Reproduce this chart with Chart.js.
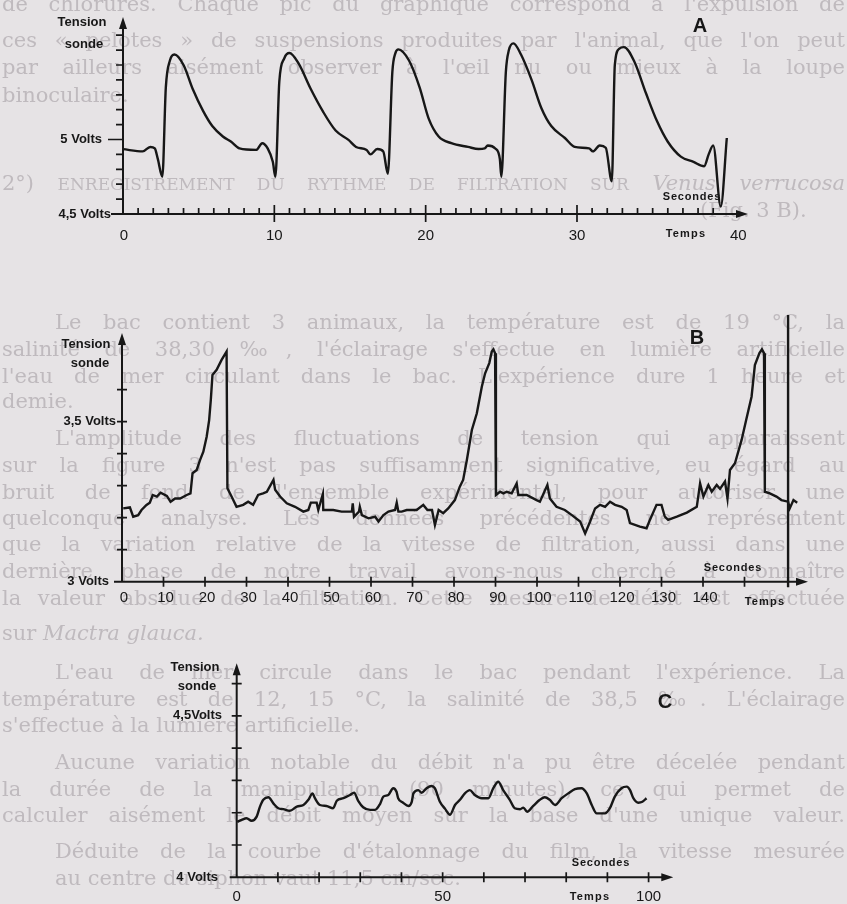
<!DOCTYPE html>
<html lang="fr">
<head>
<meta charset="utf-8">
<title>Tension sonde</title>
<script src="https://cdn.jsdelivr.net/npm/chart.js@4.4.1/dist/chart.umd.min.js"></script>
<style>
  html, body { margin: 0; padding: 0; background: #e6e3e5; }
  #page { position: relative; width: 847px; height: 904px; overflow: hidden; }
  #page canvas { position: absolute; left: 0; }
  /* faint page text showing behind the figures */
  #text { position: absolute; left: 0; top: 0; width: 847px; height: 904px;
          font: 21px "DejaVu Serif", "Liberation Serif", serif; color: #bfbabe; filter: blur(0.5px); }
  #text div { position: absolute; left: 2px; width: 843px; white-space: nowrap; line-height: 26px; }
  #text .j { text-align: justify; text-align-last: justify; white-space: normal; }
  #text .in { left: 55px; width: 790px; }
  #text .sc { text-transform: uppercase; font-size: 17px; }
</style>
</head>
<body>
<div id="page">
  <div id="text">
    <div class="j" style="top:-9px">de chlorures. Chaque pic du graphique correspond à l'expulsion de</div>
    <div class="j" style="top:27px">ces « pelotes » de suspensions produites par l'animal, que l'on peut</div>
    <div class="j" style="top:54px">par ailleurs aisément observer à l'œil nu ou mieux à la loupe</div>
    <div style="top:82px">binoculaire.</div>
    <div class="j" style="top:170px">2°) <span class="sc">Enregistrement du rythme de filtration sur</span> <i>Venus verrucosa</i></div>
    <div style="top:197px; left:700px">(Fig. 3 B).</div>
    <div class="j in" style="top:309px">Le bac contient 3 animaux, la température est de 19 °C, la</div>
    <div class="j" style="top:336px">salinité de 38,30 ‰, l'éclairage s'effectue en lumière artificielle</div>
    <div class="j" style="top:363px">l'eau de mer circulant dans le bac. L'expérience dure 1 heure et</div>
    <div style="top:388px">demie.</div>
    <div class="j in" style="top:425px">L'amplitude des fluctuations de tension qui apparaissent</div>
    <div class="j" style="top:452px">sur la figure 3 n'est pas suffisamment significative, eu égard au</div>
    <div class="j" style="top:479px">bruit de fond de l'ensemble expérimental, pour autoriser une</div>
    <div class="j" style="top:505px">quelconque analyse. Les données précédentes ne représentent</div>
    <div class="j" style="top:531px">que la variation relative de la vitesse de filtration, aussi dans une</div>
    <div class="j" style="top:558px">dernière phase de notre travail avons-nous cherché à connaître</div>
    <div class="j" style="top:585px">la valeur absolue de la filtration. Cette mesure de débit est effectuée</div>
    <div style="top:620px">sur <i>Mactra glauca.</i></div>
    <div class="j in" style="top:659px">L'eau de mer circule dans le bac pendant l'expérience. La</div>
    <div class="j" style="top:686px">température est de 12, 15 °C, la salinité de 38,5 ‰. L'éclairage</div>
    <div style="top:712px">s'effectue à la lumière artificielle.</div>
    <div class="j in" style="top:749px">Aucune variation notable du débit n'a pu être décelée pendant</div>
    <div class="j" style="top:776px">la durée de la manipulation (90 minutes), ce qui permet de</div>
    <div class="j" style="top:802px">calculer aisément le débit moyen sur la base d'une unique valeur.</div>
    <div class="j in" style="top:838px">Déduite de la courbe d'étalonnage du film, la vitesse mesurée</div>
    <div class="in" style="top:865px">au centre du siphon vaut 11,5 cm/sec.</div>
  </div>
  <canvas id="chartA" width="847" height="250" style="top:0"></canvas>
  <canvas id="chartB" width="847" height="330" style="top:300px"></canvas>
  <canvas id="chartC" width="847" height="264" style="top:640px"></canvas>
</div>
<script>
// ── Series A (seconds / volts) ──────────────────────────────────────────
const aTime = [0, 1.3, 1.8, 2.1, 2.3, 2.6, 2.83, 3.1, 3.4, 4.0, 4.6, 5.3, 5.9, 6.6, 7.15, 7.7, 8.8, 9.2, 9.56, 9.9,
  10.07, 10.33, 10.66, 11.0, 11.6, 12.4, 13.2, 14.05, 14.9, 15.4, 16.1, 16.35, 16.8, 17.2, 17.5, 17.8, 18.0, 18.2,
  18.9, 19.6, 20.2, 20.86, 21.7, 22.8, 23.5, 23.9, 24.1, 24.6, 24.9, 25.0, 25.3, 25.5, 25.8, 26.3, 27.0, 27.65,
  28.3, 29.2, 29.85, 30.8, 31.05, 31.5, 31.9, 32.3, 32.5, 32.8, 33.1, 33.8, 34.56, 35.3, 36.0, 36.86, 37.7, 38.4,
  38.7, 39.0, 39.5, 39.9];
const aVolt = [4.935, 4.92, 4.95, 4.94, 4.87, 4.75, 5.35, 5.53, 5.57, 5.5, 5.34, 5.19, 5.09, 5.02, 4.985, 4.94, 4.93, 4.975, 4.94, 4.85,
  4.75, 5.39, 5.545, 5.58, 5.51, 5.34, 5.19, 5.06, 4.997, 4.95, 4.93, 4.9, 4.936, 4.92, 4.77, 5.455, 5.58, 5.605,
  5.53, 5.35, 5.14, 5.02, 4.975, 4.95, 4.936, 4.94, 4.96, 4.94, 4.87, 4.75, 5.455, 5.6, 5.645, 5.57, 5.4, 5.21,
  5.09, 5.01, 4.95, 4.94, 4.92, 4.96, 4.945, 4.72, 5.5, 5.61, 5.62, 5.52, 5.31, 5.12, 4.985, 4.885, 4.85, 4.82,
  4.9, 4.96, 4.55, 5.01];

// ── Series B ─────────────────────────────────────────────────────────────
const bTime = [0.3, 1.9, 2.7, 3.9, 4.7, 5.9, 6.7, 7.4, 8.4, 9.3, 10.8, 11.7, 12.8, 14, 15.6, 16.5, 17.0, 18.0, 18.8,
  19.6, 20.4, 21.0, 21.4, 21.8, 22.8, 24.0, 25.2, 25.4, 26.4, 27.6, 29.2, 30.4, 31.6, 32.8, 34.0, 34.9, 36.5, 36.9,
  38.1, 39.7, 41.7, 43.7, 44.9, 45.5, 46.9, 47.3, 48.4, 48.5, 50.9, 52.9, 55.4, 55.6, 55.9, 57.1, 57.3, 57.8, 59.4,
  61, 61.8, 63, 64.2, 65.8, 66.2, 66.6, 67.4, 68.6, 71, 72.6, 73.6, 74.7, 75.4, 76.3, 77.4, 78.6, 80.2, 81.4, 82.2,
  83.1, 84.3, 85.5, 86.7, 87.5, 88.5, 89.1, 89.5, 89.9, 90.1, 91.1, 91.9, 92.7, 93.9, 95.1, 95.5, 97.5, 99.9, 100.7,
  102.5, 103.1, 104.7, 106.7, 108.4, 110.4, 111.6, 112.8, 114, 115.2, 116.4, 117.6, 118.8, 120.4, 121.6, 122.4,
  124.8, 126.4, 127.2, 128.8, 130.0, 130.8, 131.6, 133.7, 136.1, 138.5, 139.3, 140.1, 141.3, 142.1, 143.3, 144.1,
  145.3, 145.9, 146.5, 147.7, 149.3, 150.4, 151.7, 152.5, 153.6, 154.2, 154.7, 154.9, 156.1, 157.7, 158.9, 160.5,
  160.9, 161.8, 162.7];
const bVolt = [3.229, 3.232, 3.203, 3.208, 3.224, 3.24, 3.247, 3.271, 3.266, 3.278, 3.268, 3.25, 3.26, 3.26, 3.271, 3.276, 3.339, 3.349, 3.38,
  3.406, 3.453, 3.505, 3.568, 3.646, 3.662, 3.693, 3.719, 3.292, 3.266, 3.234, 3.24, 3.25, 3.24, 3.271, 3.276, 3.281, 3.318, 3.287,
  3.266, 3.245, 3.234, 3.219, 3.224, 3.247, 3.247, 3.224, 3.274, 3.224, 3.224, 3.219, 3.219, 3.245, 3.203, 3.219, 3.234, 3.208, 3.198,
  3.203, 3.188, 3.208, 3.219, 3.224, 3.247, 3.219, 3.219, 3.224, 3.224, 3.24, 3.224, 3.224, 3.177, 3.224, 3.214, 3.229, 3.255, 3.297, 3.318,
  3.38, 3.474, 3.526, 3.609, 3.651, 3.683, 3.719, 3.726, 3.714, 3.271, 3.281, 3.276, 3.281, 3.276, 3.307, 3.271, 3.271, 3.255, 3.25,
  3.302, 3.26, 3.234, 3.224, 3.208, 3.188, 3.151, 3.188, 3.229, 3.24, 3.234, 3.25, 3.24, 3.234, 3.224, 3.183,
  3.172, 3.167, 3.193, 3.24, 3.24, 3.203, 3.193, 3.203, 3.216, 3.234, 3.307, 3.266, 3.302, 3.281, 3.302, 3.29,
  3.313, 3.26, 3.349, 3.37, 3.443, 3.505, 3.578, 3.677, 3.714, 3.726, 3.714, 3.281, 3.276, 3.266, 3.255, 3.25,
  3.229, 3.255, 3.247];
// vertical stop mark at the end of record B
const bMarkTime = [160.5, 160.5];
const bMarkVolt = [3.833, 2.983];

// ── Series C ─────────────────────────────────────────────────────────────
const cTime = [0.15, 1.2, 2.4, 3.6, 4.85, 5.65, 6.46, 7.7, 8.9, 10.1, 11.3, 12.9, 14.6, 16.2, 17.4, 18.4, 19.0, 20.2,
  21.8, 23.4, 24.3, 25.9, 27.5, 28.5, 29.5, 30.7, 32.4, 33.6, 34.8, 35.6, 36.8, 38, 38.8, 39.2, 40.4, 41.7, 42.5,
  42.9, 44.1, 44.9, 46.1, 47.3, 48.1, 49.3, 50.6, 51.8, 53, 54.2, 55.4, 56.6, 57.8, 59.5, 61.1, 62.3, 63.5, 64.7,
  66.3, 67.5, 68.8, 69.6, 70.5, 72, 73.6, 74.8, 76, 77.3, 78.9, 80.5, 82.1, 83.7, 85, 86.2, 87.4, 89.4, 90.6, 91.8,
  93.4, 94.7, 95.5, 96.3, 97.5, 98.5, 99.5];
const cVolt = [4.172, 4.178, 4.183, 4.175, 4.188, 4.219, 4.24, 4.248, 4.229, 4.214, 4.211, 4.206, 4.219, 4.224, 4.24, 4.26, 4.245, 4.224,
  4.221, 4.214, 4.237, 4.245, 4.255, 4.262, 4.237, 4.217, 4.209, 4.209, 4.227, 4.25, 4.255, 4.276, 4.265, 4.245, 4.231, 4.221, 4.234,
  4.26, 4.27, 4.262, 4.276, 4.283, 4.276, 4.235, 4.212, 4.194, 4.224, 4.24, 4.26, 4.27, 4.255, 4.245, 4.245, 4.276, 4.296, 4.27,
  4.24, 4.214, 4.211, 4.216, 4.203, 4.221, 4.24, 4.248, 4.24, 4.224, 4.245, 4.26, 4.273, 4.276, 4.26, 4.224, 4.198, 4.198, 4.214, 4.25,
  4.276, 4.281, 4.27, 4.245, 4.231, 4.234, 4.245];

// ── Axis ticks and labels ────────────────────────────────────────────────
const aXTicks = [1, 2, 3, 4, 5, 6, 7, 8, 9, 11, 12, 13, 14, 15, 16, 17, 18, 19, 21, 22, 23, 24, 25, 26, 27, 28, 29,
  31, 32, 33, 34, 35, 36, 37, 38, 39];
const aXMajor = [10, 20, 30];
const aXLabelValues = [0, 10, 20, 30, 40];
const aXLabels = ['0', '10', '20', '30', '40'];
const aYTicks = [4.6, 4.7, 4.8, 4.9, 5.1, 5.2, 5.3, 5.4, 5.5, 5.6, 5.7];
const aYMajor = [5.0];
const aYLabelValues = [5.0, 4.5];
const aYLabels = ['5 Volts', '4,5 Volts'];

const bXTicks = [10, 20, 30, 40, 50, 60, 70, 80, 90, 100, 110, 120, 130, 140, 150];
const bXLabelValues = [0, 10, 20, 30, 40, 50, 60, 70, 80, 90, 100, 110, 120, 130, 140];
const bXLabels = ['0', '10', '20', '30', '40', '50', '60', '70', '80', '90', '100', '110', '120', '130', '140'];
const bYTicks = [3.1, 3.2, 3.3, 3.4, 3.5, 3.6];
const bYLabelValues = [3.5, 3.0];
const bYLabels = ['3,5 Volts', '3 Volts'];

const cXTicks = [10, 20, 30, 40, 50, 60, 70, 80, 90, 100];
const cXLabelValues = [0, 50, 100];
const cXLabels = ['0', '50', '100'];
const cYTicks = [4.1, 4.2, 4.3, 4.4, 4.5, 4.6];
const cYLabelValues = [4.5, 4.0];
const cYLabels = ['4,5Volts', '4 Volts'];

// ── Styling ──────────────────────────────────────────────────────────────
const INK = '#171717';
const LABEL_FONT = 'bold 13px "Liberation Sans", Arial, sans-serif';
const TICK_FONT = '15px "Liberation Sans", Arial, sans-serif';
const UNIT_FONT = 'bold 11px "Liberation Sans", Arial, sans-serif';
const PANEL_FONT = 'bold 20px "Liberation Sans", Arial, sans-serif';

function drawText(ctx, str, x, y, font, align, spacing) {
  ctx.font = font;
  ctx.textAlign = align || 'center';
  ctx.textBaseline = 'middle';
  ctx.letterSpacing = spacing || '0px';
  ctx.fillText(str, x, y);
  ctx.letterSpacing = '0px';
}

// hand-drawn style axes: arrows, crossing ticks, labels
const axesPlugin = {
  id: 'axesDraw',
  afterDraw(chart, args, o) {
    const ctx = chart.ctx;
    const xs = chart.scales.x, ys = chart.scales.y;
    const ca = chart.chartArea;
    const ox = xs.getPixelForValue(0);
    const oy = ys.getPixelForValue(ys.min);

    ctx.save();
    ctx.strokeStyle = INK;
    ctx.fillStyle = INK;
    ctx.lineWidth = 2;

    ctx.beginPath();
    ctx.moveTo(ox, oy + o.yBelow);
    ctx.lineTo(ox, ca.top + 8);
    ctx.moveTo(ox - o.xLeft, oy);
    ctx.lineTo(ca.right - 8, oy);
    ctx.stroke();

    ctx.beginPath();
    ctx.moveTo(ox, ca.top);
    ctx.lineTo(ox - 4, ca.top + 12);
    ctx.lineTo(ox + 4, ca.top + 12);
    ctx.closePath();
    ctx.moveTo(ca.right, oy);
    ctx.lineTo(ca.right - 12, oy - 4);
    ctx.lineTo(ca.right - 12, oy + 4);
    ctx.closePath();
    ctx.fill();

    ctx.lineWidth = 1.7;
    ctx.beginPath();
    o.yTicks.forEach(v => {
      const py = ys.getPixelForValue(v);
      ctx.moveTo(ox - o.yTick[0], py);
      ctx.lineTo(ox + o.yTick[1], py);
    });
    (o.yMajor || []).forEach(v => {
      const py = ys.getPixelForValue(v);
      ctx.moveTo(ox - o.yTickMajor[0], py);
      ctx.lineTo(ox + o.yTickMajor[1], py);
    });
    o.xTicks.forEach(v => {
      const px = xs.getPixelForValue(v);
      ctx.moveTo(px, oy - o.xTick[0]);
      ctx.lineTo(px, oy + o.xTick[1]);
    });
    (o.xMajor || []).forEach(v => {
      const px = xs.getPixelForValue(v);
      ctx.moveTo(px, oy - o.xTickMajor[0]);
      ctx.lineTo(px, oy + o.xTickMajor[1]);
    });
    ctx.stroke();

    o.yLabelValues.forEach((v, i) => {
      drawText(ctx, o.yLabels[i], o.yLabelX[i], ys.getPixelForValue(v), LABEL_FONT, 'right');
    });
    o.xLabelValues.forEach((v, i) => {
      const dx = o.xLabelDx ? o.xLabelDx[i] : 0;
      drawText(ctx, o.xLabels[i], xs.getPixelForValue(v) + dx, oy + o.xLabelGap, TICK_FONT, 'center');
    });

    drawText(ctx, 'Tension', o.title[0], o.title[1], LABEL_FONT);
    drawText(ctx, 'sonde', o.title[2], o.title[3], LABEL_FONT);
    drawText(ctx, o.panel, o.panelPos[0], o.panelPos[1], PANEL_FONT);
    drawText(ctx, 'Secondes', o.secPos[0], o.secPos[1], UNIT_FONT, 'center', '0.8px');
    drawText(ctx, 'Temps', o.tpsPos[0], o.tpsPos[1], UNIT_FONT, 'center', '1.2px');
    ctx.restore();
  }
};

function series(time, volt, smooth) {
  return {
    data: time.map((t, i) => ({ x: t, y: volt[i] })),
    borderColor: INK,
    borderWidth: 2.4,
    pointRadius: 0,
    fill: false,
    clip: false,
    tension: 0,
    cubicInterpolationMode: smooth ? 'monotone' : 'default'
  };
}

function buildChart(id, datasets, xMax, yMin, yMax, padding, axes) {
  return new Chart(document.getElementById(id), {
    type: 'line',
    data: { datasets },
    options: {
      responsive: false,
      animation: false,
      devicePixelRatio: 1,
      layout: { padding },
      scales: {
        x: { type: 'linear', min: 0, max: xMax, display: false },
        y: { type: 'linear', min: yMin, max: yMax, display: false }
      },
      plugins: { legend: { display: false }, tooltip: { enabled: false }, axesDraw: axes }
    },
    plugins: [axesPlugin]
  });
}

// ── A ───────────────────────────────────────────────────────────────────
buildChart('chartA', [series(aTime, aVolt, true)], 41.3, 4.5, 5.822,
  { left: 123, right: 99, top: 17, bottom: 36 },
  {
    yBelow: 0, xLeft: 12,
    yTicks: aYTicks, yTick: [7, 0], yMajor: aYMajor, yTickMajor: [15, 0],
    xTicks: aXTicks, xTick: [6, 0], xMajor: aXMajor, xTickMajor: [9, 8],
    yLabelValues: aYLabelValues, yLabels: aYLabels, yLabelX: [102, 111],
    xLabelValues: aXLabelValues, xLabels: aXLabels, xLabelDx: [1, 0, 0, 0, 10], xLabelGap: 22,
    title: [82, 22, 84, 44], panel: 'A', panelPos: [700, 26],
    secPos: [692, 197], tpsPos: [686, 234]
  });

// ── B ───────────────────────────────────────────────────────────────────
buildChart('chartB', [series(bTime, bVolt, false), series(bMarkTime, bMarkVolt, false)], 165.3, 3.0, 3.777,
  { left: 122, right: 39, top: 33, bottom: 48.3 },
  {
    yBelow: 0, xLeft: 8,
    yTicks: bYTicks, yTick: [5, 5],
    xTicks: bXTicks, xTick: [5, 5],
    yLabelValues: bYLabelValues, yLabels: bYLabels, yLabelX: [116, 109],
    xLabelValues: bXLabelValues, xLabels: bXLabels, xLabelDx: Array(15).fill(2), xLabelGap: 16,
    title: [86, 44, 90, 63], panel: 'B', panelPos: [697, 38],
    secPos: [733, 268], tpsPos: [765, 302]
  });

// ── C ───────────────────────────────────────────────────────────────────
buildChart('chartC', [series(cTime, cVolt, true)], 106, 4.0, 4.663,
  { left: 236.7, right: 173.7, top: 23.3, bottom: 26.7 },
  {
    yBelow: 0, xLeft: 7,
    yTicks: cYTicks, yTick: [5, 5],
    xTicks: cXTicks, xTick: [5, 5],
    yLabelValues: cYLabelValues, yLabels: cYLabels, yLabelX: [222, 218],
    xLabelValues: cXLabelValues, xLabels: cXLabels, xLabelGap: 20,
    title: [195, 27, 197, 46], panel: 'C', panelPos: [665, 62],
    secPos: [601, 223], tpsPos: [590, 257]
  });
</script>
</body>
</html>
